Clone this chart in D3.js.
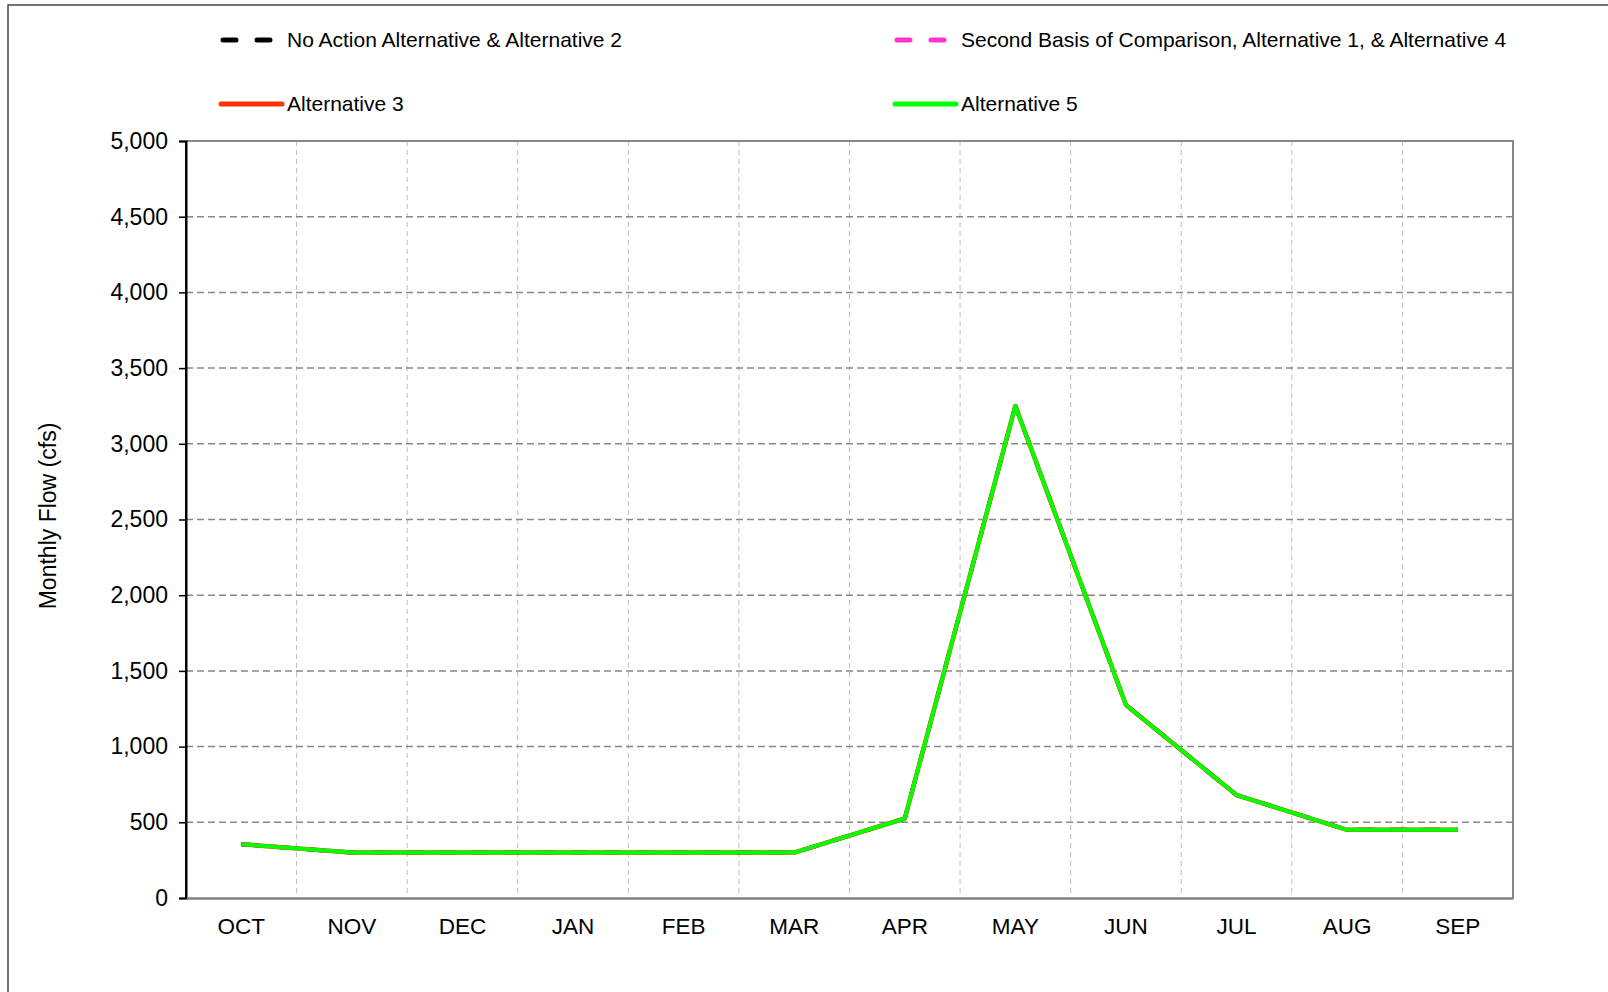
<!DOCTYPE html>
<html>
<head>
<meta charset="utf-8">
<script src="https://cdn.jsdelivr.net/npm/d3@7"></script>
<style>
  body { margin: 0; background: #fff; }
  svg { display: block; font-family: "Liberation Sans", Arial, sans-serif; }
</style>
</head>
<body>
<div id="chart"></div>
<script>
const months = ['OCT', 'NOV', 'DEC', 'JAN', 'FEB', 'MAR', 'APR', 'MAY', 'JUN', 'JUL', 'AUG', 'SEP'];
const yTicks = [0, 500, 1000, 1500, 2000, 2500, 3000, 3500, 4000, 4500, 5000];

// all four series plot on top of each other in the source
const noActionAlt2 = [355, 300, 300, 300, 300, 300, 525, 3250, 1275, 680, 450, 450];
const secondBasisAlt1Alt4 = [355, 300, 300, 300, 300, 300, 525, 3250, 1275, 680, 450, 450];
const alternative3 = [355, 300, 300, 300, 300, 300, 525, 3250, 1275, 680, 450, 450];
const alternative5 = [355, 300, 300, 300, 300, 300, 525, 3250, 1275, 680, 450, 450];

const seriesNames = [
    'No Action Alternative & Alternative 2',
    'Second Basis of Comparison, Alternative 1, & Alternative 4',
    'Alternative 3',
    'Alternative 5'
];

function drawChart() {
    const W = 1608, H = 992;
    const margin = { top: 141, right: 95, bottom: 94, left: 186 };
    const width = W - margin.left - margin.right;
    const height = H - margin.top - margin.bottom;

    const root = d3.select('#chart')
        .append('svg')
        .attr('width', W)
        .attr('height', H);

    // outer frame (only top and left edges show)
    root.append('path')
        .attr('d', `M8,${H} L8,5 L${W},5`)
        .attr('fill', 'none')
        .attr('stroke', '#444')
        .attr('stroke-width', 1.5);

    const svg = root.append('g')
        .attr('transform', `translate(${margin.left}, ${margin.top})`);

    const xScale = d3.scaleBand()
        .domain(months)
        .range([0, width]);

    const yScale = d3.scaleLinear()
        .domain([0, 5000])
        .range([height, 0]);

    // vertical grid at band boundaries
    svg.selectAll('.vgrid')
        .data(months.slice(1))
        .enter()
        .append('line')
        .attr('class', 'vgrid')
        .attr('x1', d => xScale(d))
        .attr('x2', d => xScale(d))
        .attr('y1', 0)
        .attr('y2', height)
        .attr('stroke', '#bdbdbd')
        .attr('stroke-width', 1)
        .attr('stroke-dasharray', '5,4');

    // horizontal grid
    svg.selectAll('.hgrid')
        .data(yTicks.slice(1, -1))
        .enter()
        .append('line')
        .attr('class', 'hgrid')
        .attr('x1', 0)
        .attr('x2', width)
        .attr('y1', d => yScale(d))
        .attr('y2', d => yScale(d))
        .attr('stroke', '#888')
        .attr('stroke-width', 1.5)
        .attr('stroke-dasharray', '7,4');

    // top and right borders
    svg.append('path')
        .attr('d', `M0,0 L${width},0 L${width},${height}`)
        .attr('fill', 'none')
        .attr('stroke', '#888')
        .attr('stroke-width', 2);

    // y axis
    const yAxis = svg.append('g')
        .call(d3.axisLeft(yScale)
            .tickValues(yTicks)
            .tickSize(7)
            .tickPadding(11)
            .tickFormat(d3.format(',')));
    yAxis.select('.domain').attr('stroke', '#000').attr('stroke-width', 2);
    yAxis.selectAll('.tick line').attr('stroke', '#000').attr('stroke-width', 1.5);
    yAxis.selectAll('text')
        .style('font-size', '23px')
        .style('font-family', '"Liberation Sans", Arial, sans-serif')
        .attr('fill', '#000');

    // x axis
    const xAxis = svg.append('g')
        .attr('transform', `translate(0, ${height})`)
        .call(d3.axisBottom(xScale).tickSize(0).tickPadding(20));
    xAxis.select('.domain').attr('stroke', '#808080').attr('stroke-width', 2.5);
    xAxis.selectAll('text')
        .style('font-size', '22.5px')
        .style('font-family', '"Liberation Sans", Arial, sans-serif')
        .attr('fill', '#000');

    // re-draw the left axis line on top of the bottom one
    svg.append('line')
        .attr('x1', 0).attr('x2', 0)
        .attr('y1', 0).attr('y2', height + 1)
        .attr('stroke', '#000')
        .attr('stroke-width', 2);

    svg.append('text')
        .attr('transform', 'rotate(-90)')
        .attr('x', -(516 - margin.top))
        .attr('y', 48 - margin.left + 8)
        .attr('text-anchor', 'middle')
        .style('font-size', '23px')
        .attr('fill', '#000')
        .text('Monthly Flow (cfs)');

    const lineData = [
        { name: seriesNames[0], values: noActionAlt2, color: '#000000', dash: '17,16' },
        { name: seriesNames[1], values: secondBasisAlt1Alt4, color: '#ff33cc', dash: '17,16' },
        { name: seriesNames[2], values: alternative3, color: '#ff3300', dash: null },
        { name: seriesNames[3], values: alternative5, color: '#00ff00', dash: null }
    ];

    const line = d3.line()
        .x((d, i) => xScale(months[i]) + xScale.bandwidth() / 2)
        .y(d => yScale(d));

    svg.selectAll('.line')
        .data(lineData)
        .enter()
        .append('path')
        .attr('class', 'line')
        .attr('d', d => line(d.values))
        .attr('fill', 'none')
        .attr('stroke', d => d.color)
        .attr('stroke-width', d => d.name === 'Alternative 3' ? 4.5 : 4)
        .attr('stroke-dasharray', d => d.dash)
        .attr('stroke-linejoin', 'round');

    // legend
    const legendPos = [
        { x: 221, y: 40 },
        { x: 895, y: 40 },
        { x: 221, y: 104 },
        { x: 895, y: 104 }
    ];

    const legend = root.append('g').attr('class', 'legend');
    legend.selectAll('.legend-item')
        .data(lineData)
        .enter()
        .append('g')
        .attr('class', 'legend-item')
        .attr('transform', (d, i) => `translate(${legendPos[i].x}, ${legendPos[i].y})`)
        .each(function(d) {
            const g = d3.select(this);
            g.append('line')
                .attr('x1', 0)
                .attr('x2', d.dash ? 51 : 61)
                .attr('y1', 0)
                .attr('y2', 0)
                .attr('stroke', d.color)
                .attr('stroke-width', 5)
                .attr('stroke-linecap', d.dash ? 'round' : 'round')
                .attr('stroke-dasharray', d.dash ? '13,21' : null)
                .attr('transform', d.dash ? 'translate(2,0)' : null);
            g.append('text')
                .attr('x', 66)
                .attr('y', 7)
                .style('font-size', '21px')
                .attr('fill', '#000')
                .text(d.name);
        });
}

drawChart();
</script>
</body>
</html>
